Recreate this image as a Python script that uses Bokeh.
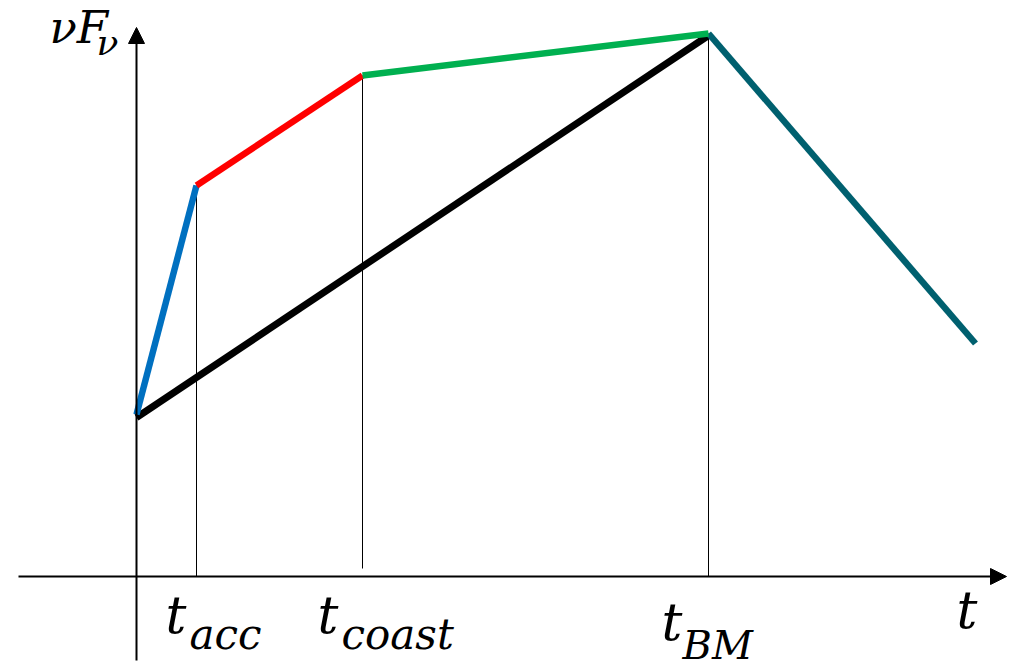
from bokeh.plotting import figure
from bokeh.models import Range1d, Arrow, NormalHead
from bokeh.core.properties import value
from bokeh.embed import file_html
from bokeh.resources import INLINE

# Schematic values (arbitrary units: time on x, nuF_nu on y)
t_marks = [0, 60, 226, 572, 839]           # origin, t_acc, t_coast, t_BM, end
flux_marks = [162, 391, 501, 543, 233]      # nuF_nu at those times
seg_colors = ["#0070C0", "#FF0000", "#00B050", "#00606F"]
black_t = [0, 572]
black_flux = [159, 541]
vline_t = [60, 226, 572]
vline_top = [391, 501, 543]
vline_bottom = [0, 8, 0]
tick_main = ["t", "t", "t"]
tick_sub = ["acc", "coast", "BM"]

p = figure(width=1020, height=668, output_backend="svg", toolbar_location=None,
           x_range=Range1d(-136, 884), y_range=Range1d(-92, 576),
           x_axis_location=None, y_axis_location=None, min_border=0,
           outline_line_color=None)
p.xgrid.visible = False
p.ygrid.visible = False

# thin guide lines
p.segment(x0=vline_t, y0=vline_bottom, x1=vline_t, y1=vline_top, line_color="black", line_width=1)

# axes with arrow heads
p.add_layout(Arrow(end=NormalHead(size=16, fill_color="black", line_color="black", line_width=1),
                   x_start=-118, y_start=0, x_end=870, y_end=0, line_width=2, line_color="black"))
p.add_layout(Arrow(end=NormalHead(size=16, fill_color="black", line_color="black", line_width=1),
                   x_start=0, y_start=-84, x_end=0, y_end=549, line_width=2, line_color="black"))

# black line
p.line(black_t, black_flux, line_color="black", line_width=7)
# coloured segments (teal first so green sits on top)
order = [3, 0, 1, 2]
for i in order:
    p.line(t_marks[i:i + 2], flux_marks[i:i + 2], line_color=seg_colors[i], line_width=6.5)

font = value("DejaVu Serif")
# tick labels
main_x = [t_marks[1] - 31, t_marks[2] - 45, t_marks[3] - 47]
main_y = [-38, -38, -45]
sub_x = [t_marks[1] - 7, t_marks[2] - 21, t_marks[3] - 26]
sub_y = [-58, -58, -68]
p.text(x=main_x, y=main_y, text=tick_main, text_font=font, text_font_style="italic",
       text_font_size="52px", text_baseline="alphabetic", text_align="left", text_color="black")
p.text(x=sub_x[:2], y=sub_y[:2], text=tick_sub[:2], text_font=font, text_font_style="italic",
       text_font_size="42px", text_baseline="alphabetic", text_align="left", text_color="black")
p.text(x=sub_x[2:], y=sub_y[2:], text=tick_sub[2:], text_font=font, text_font_style="italic",
       text_font_size="40px", text_baseline="alphabetic", text_align="left", text_color="black")
p.text(x=[820], y=[-33], text=["t"], text_font=font, text_font_style="italic",
       text_font_size="52px", text_baseline="alphabetic", text_align="left", text_color="black")

# y label nuF_nu
p.text(x=[-87], y=[549], text=["νF"], text_font=font, text_font_style="italic",
       text_font_size="45px", text_baseline="alphabetic", text_align="left", text_color="black")
p.text(x=[-40], y=[534], text=["ν"], text_font=font, text_font_style="italic",
       text_font_size="36px", text_baseline="alphabetic", text_align="left", text_color="black")

open("out.html", "w").write(file_html(p, INLINE))
